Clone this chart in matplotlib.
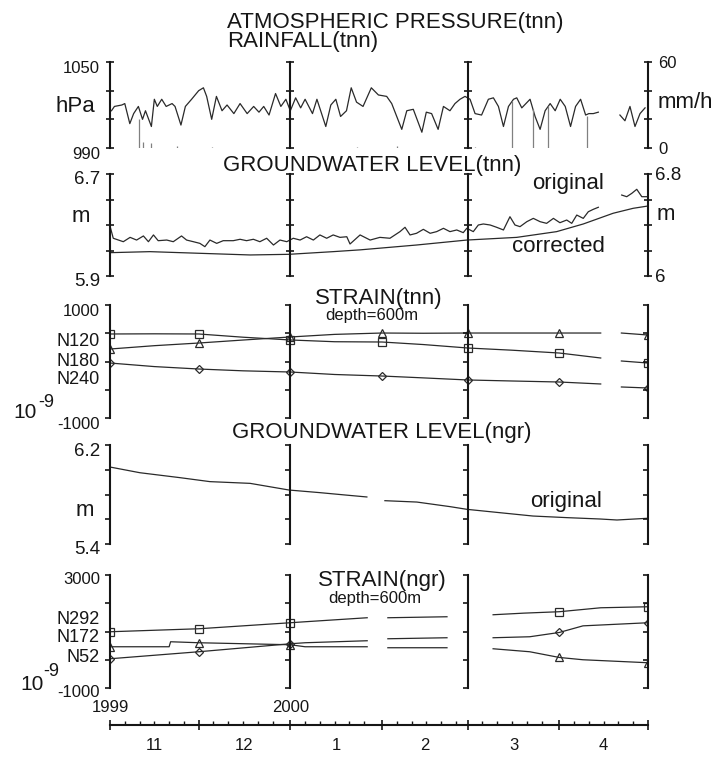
import numpy as np
import matplotlib
matplotlib.use("Agg")
import matplotlib.pyplot as plt
from matplotlib.transforms import ScaledTranslation, offset_copy

plt.rcParams["font.family"] = ["Liberation Sans", "DejaVu Sans"]
plt.rcParams["axes.unicode_minus"] = False

nan = np.nan

# ---------------------------------------------------------------- time frame
start = np.datetime64("1999-11-01")
month_starts = np.array(["1999-11-01", "1999-12-01", "2000-01-01", "2000-02-01",
                         "2000-03-01", "2000-04-01", "2000-05-01"], dtype="datetime64[D]")
month_names = ["11", "12", "1", "2", "3", "4"]
year_names = ["1999", "2000"]
year_starts = np.array(["1999-11-01", "2000-01-01"], dtype="datetime64[D]")
ruler_dates = np.array(["2000-01-01", "2000-03-01"], dtype="datetime64[D]")

# ---------------------------------------------------------------- tnn: pressure / rainfall
pressure_day = [
    0.5, 1.5, 4.0, 5.0, 6.7, 8.0, 9.6, 11.0, 12.0, 14.0,
    15.0, 16.0, 17.5, 19.0, 21.0, 22.0, 24.0, 25.5, 27.6, 30.0,
    31.6, 32.7, 34.4, 36.0, 37.9, 39.6, 41.9, 44.0, 46.4, 48.6,
    50.4, 52.0, 53.8, 56.0, 57.8, 59.5, 61.0, 62.8, 64.5, 66.0,
    68.5, 70.0, 73.0, 74.7, 76.4, 78.0, 80.0, 81.6, 83.4, 85.6,
    88.4, 90.8, 93.6, 95.3, 97.0, 98.7, 100.4, 102.6, 105.5, 107.0,
    108.8, 111.0, 112.8, 115.0, 116.7, 118.4, 120.1, 121.8, 123.5, 125.7,
    128.0, 129.7, 131.4, 133.1, 134.8, 136.5, 137.6, 139.3, 142.1, 143.8,
    145.5, 147.2, 148.9, 150.6, 152.3, 154.0, 155.8, 157.5, 159.2, 160.9,
    162.0, 163.5, 165.2, nan, 172.5, 174.2, 175.9, 177.6, 179.3, 181.0]
pressure_hpa = [
    1016, 1019, 1020, 1021, 1007, 1014, 1019, 1010, 1016, 1005,
    1024, 1019, 1024, 1019, 1021, 1019, 1006, 1019, 1024, 1030,
    1032, 1026, 1010, 1026, 1016, 1020, 1014, 1021, 1014, 1019,
    1015, 1019, 1013, 1028, 1019, 1024, 1016, 1025, 1018, 1024,
    1014, 1024, 1005, 1020, 1024, 1012, 1016, 1032, 1022, 1019,
    1032, 1027, 1026, 1021, 1012, 1003, 1016, 1017, 1001, 1015,
    1014, 1003, 1019, 1016, 1021, 1024, 1026, 1024, 1014, 1013,
    1024, 1025, 1019, 1005, 1019, 1024, 1025, 1018, 1024, 1012,
    1003, 1016, 1021, 1016, 1024, 1019, 1005, 1019, 1024, 1013,
    1014, 1014, 1015, nan, 1013, 1009, 1019, 1005, 1014, 1018]

rain_day = [9.9, 11.0, 14.0, 22.5, 34.4, 83.4, 97.0, 123.5, 136.0, 143.2, 148.3, 161.2]
rain_mm = [20, 4.5, 3.5, 1.5, 1.0, 1.0, 1.5, 1.0, 33, 27, 29, 22]

# ---------------------------------------------------------------- tnn: groundwater
gw_tnn_day = [
    0.0, 1.1, 4.5, 6.8, 9.0, 11.3, 13.0, 14.7, 16.3, 19.2,
    21.4, 24.2, 25.9, 28.2, 30.4, 32.1, 33.8, 36.1, 38.3, 41.7,
    44.0, 46.2, 48.5, 50.7, 53.0, 55.3, 57.5, 59.8, 62.0, 64.3,
    66.5, 68.8, 71.0, 73.3, 75.5, 77.8, 80.1, 81.2, 84.6, 88.0,
    91.3, 94.7, 98.1, 99.8, 101.5, 103.7, 106.0, 108.3, 110.5, 112.8,
    115.0, 117.3, 119.5, 120.7, 122.9, 124.6, 126.3, 128.6, 130.8, 133.1,
    135.3, 137.0, 138.7, 141.0, 143.2, 145.5, 147.7, 150.0, 152.2, 154.5,
    156.2, 157.9, 160.1, 161.8, 163.5, 165.2, nan, 173.1, 174.8, 176.5,
    178.2, 179.9, 181.6]
gw_tnn_original = [
    6.292, 6.196, 6.169, 6.203, 6.182, 6.214, 6.169, 6.222, 6.177, 6.182,
    6.169, 6.214, 6.182, 6.169, 6.156, 6.130, 6.182, 6.156, 6.177, 6.177,
    6.188, 6.177, 6.188, 6.169, 6.196, 6.143, 6.182, 6.169, 6.196, 6.182,
    6.208, 6.182, 6.222, 6.196, 6.222, 6.203, 6.208, 6.151, 6.222, 6.182,
    6.203, 6.196, 6.248, 6.282, 6.222, 6.235, 6.266, 6.235, 6.248, 6.274,
    6.248, 6.261, 6.240, 6.274, 6.248, 6.300, 6.308, 6.300, 6.282, 6.261,
    6.365, 6.300, 6.287, 6.326, 6.352, 6.326, 6.313, 6.352, 6.318, 6.339,
    6.313, 6.378, 6.352, 6.404, 6.423, 6.439, nan, 6.535, 6.522, 6.548,
    6.580, 6.522, 6.522]

gw_tnn_corr_day = [0.0, 13.5, 30.4, 47.4, 60.5, 75.5, 84.6, 103.7, 120.7,
                   137.6, 151.1, 160.1, 170.2, 177.0, 182.0]
gw_tnn_corrected = [6.083, 6.091, 6.078, 6.065, 6.070, 6.091, 6.105, 6.143, 6.182,
                    6.203, 6.248, 6.308, 6.392, 6.431, 6.449]

# ---------------------------------------------------------------- tnn: strain (1e-9)
strain_tnn_day = [0, 15, 30, 45, 61, 76, 92, 106, 121, 136, 152, 166, nan, 173, 182]
strain_tnn_N120 = [487, 490, 487, 430, 381, 350, 345, 300, 239, 200, 150, 62, nan, 9, -27]
strain_tnn_N180 = [221, 280, 327, 380, 434, 480, 504, 500, 504, 504, 504, 504, nan, 504, 469]
strain_tnn_N240 = [-27, -90, -133, -165, -186, -230, -257, -290, -327, -345, -363, -398, nan, -451, -469]

# ---------------------------------------------------------------- ngr: groundwater
gw_ngr_day = [0.0, 10.1, 23.7, 33.8, 47.4, 60.6, 71.0, 80.0, 86.9, nan,
              93.0, 103.8, 115.0, 120.8, 131.9, 143.1, 154.6, 165.8, 171.5, 182.0]
gw_ngr_original = [6.022, 5.976, 5.936, 5.904, 5.890, 5.836, 5.815, 5.795, 5.780, nan,
                   5.750, 5.739, 5.702, 5.680, 5.653, 5.626, 5.613, 5.602, 5.594, 5.608]

# ---------------------------------------------------------------- ngr: strain (1e-9)
strain_ngr_N292_day = [0, 30, 61, 66, 87, nan, 94, 114, nan, 129.6, 140, 152, 166, 182]
strain_ngr_N292 = [991, 1097, 1310, 1345, 1487, nan, 1487, 1522, nan, 1593, 1650, 1700, 1840, 1876]
strain_ngr_N172_day = [0, 20, 20.5, 30, 61, 66, 87, nan, 94, 114, nan, 129.6, 142, 152, 160, 182]
strain_ngr_N172 = [460, 460, 637, 602, 531, 460, 460, nan, 425, 425, nan, 389, 283, 81, 0, -106]
strain_ngr_N52_day = [0, 30, 61, 66, 87, nan, 94, 114, nan, 129.6, 142, 152, 160, 182]
strain_ngr_N52 = [35, 283, 566, 602, 673, nan, 743, 779, nan, 779, 814, 966, 1200, 1310]

# ---------------------------------------------------------------- styling / layout
INK = "#161616"
TRACE = "#2a2a2a"
RAIN = "#808080"
SPINE_W = 1.5
TICK_W = 1.2
W, H = 713, 758
X0, X1 = 110, 648

month_days = (month_starts - start).astype(float)
span = month_days[-1]
ruler_days = (ruler_dates - start).astype(float)
year_days = (year_starts - start).astype(float)

fig = plt.figure(figsize=(W / 100, H / 100), dpi=100)
fig.patch.set_facecolor("white")


def rect(top, bottom):
    return [X0 / W, 1 - bottom / H, (X1 - X0) / W, (bottom - top) / H]


def put(px, py, s, size, ha="left", va="center", **kw):
    return fig.text(px / W, 1 - py / H, s, fontsize=size, ha=ha, va=va, color=INK, **kw)


def base_panel(top, bottom, ylim, ticks, labels, direction, length, lab_size, pad):
    ax = fig.add_axes(rect(top, bottom))
    ax.set_xlim(0, span)
    ax.set_ylim(*ylim)
    ax.patch.set_visible(False)
    for s in ("top", "right", "bottom"):
        ax.spines[s].set_visible(False)
    ax.spines["left"].set_linewidth(SPINE_W)
    ax.spines["left"].set_color(INK)
    ax.tick_params(axis="x", bottom=False, labelbottom=False)
    ax.set_yticks(ticks, labels)
    ax.tick_params(axis="y", direction=direction, length=length, width=TICK_W,
                   color=INK, labelcolor=INK, labelsize=lab_size, pad=pad)
    return ax


def ruler(ax, day, ticks, direction, length):
    r = ax.twinx()
    r.set_ylim(ax.get_ylim())
    r.yaxis.set_ticks_position("left")
    r.spines["left"].set_position(("data", day))
    for s in ("top", "right", "bottom"):
        r.spines[s].set_visible(False)
    r.spines["left"].set_linewidth(SPINE_W)
    r.spines["left"].set_color(INK)
    r.set_yticks(ticks)
    r.tick_params(axis="y", direction=direction, length=length, width=TICK_W,
                  color=INK, labelleft=False, labelright=False)
    return r


def right_scale(ax, ylim, ticks, labels, lab_size, pad):
    r = ax.twinx()
    r.set_ylim(*ylim)
    for s in ("top", "left", "bottom"):
        r.spines[s].set_visible(False)
    r.spines["right"].set_linewidth(SPINE_W)
    r.spines["right"].set_color(INK)
    r.set_yticks(ticks, labels)
    r.tick_params(axis="y", direction="inout", length=5.8, width=TICK_W,
                  color=INK, labelcolor=INK, labelsize=lab_size, pad=pad)
    return r


def nudge_down(ax, px):
    off = ScaledTranslation(0, -px / 100, fig.dpi_scale_trans)
    for t in ax.yaxis.get_major_ticks():
        t.label1.set_transform(t.label1.get_transform() + off)


def month_marks(days):
    d = np.asarray(days, dtype=float)
    return list(np.isin(d, month_days))


line_kw = dict(color=TRACE, lw=0.9)
mk_kw = dict(mfc="none", mec=TRACE, mew=0.9)

# ---------------------------------------------------------------- panel 1
ax1 = base_panel(62, 148, (990, 1050), [990, 1010, 1030, 1050], ["990", "", "", "1050"],
                 "inout", 5.8, 12, 4.3)
ax1.plot(pressure_day, pressure_hpa, **line_kw)
for d in ruler_days:
    ruler(ax1, d, [990, 1010, 1030, 1050], "inout", 5.8)
rain_ax = right_scale(ax1, (0, 60), [0, 20, 40, 60], ["0", "", "", "60"], 12, 4.3)
rain_ax.vlines(rain_day, 0, rain_mm, color=RAIN, lw=0.9)
nudge_down(ax1, 5)

# ---------------------------------------------------------------- panel 2
gw_ticks = [5.9, 6.1, 6.3, 6.5, 6.7]
ax2 = base_panel(174, 276, (5.9, 6.7), gw_ticks, ["5.9", "", "", "", "6.7"],
                 "inout", 5.8, 13.5, 4.3)
ax2.plot(gw_tnn_day, gw_tnn_original, **line_kw)
ax2.plot(gw_tnn_corr_day, gw_tnn_corrected, **line_kw)
for d in ruler_days:
    ruler(ax2, d, gw_ticks, "inout", 5.8)
right_scale(ax2, (6.0, 6.8), [6.0, 6.2, 6.4, 6.6, 6.8], ["6", "", "", "", "6.8"], 13.5, 2.5)
nudge_down(ax2, 4)

# ---------------------------------------------------------------- panel 3
st_ticks = [-1000, -500, 0, 500, 1000]
ax3 = base_panel(305, 418, (-1000, 1000), st_ticks, ["-1000", "", "", "", "1000"],
                 "out", 3.6, 12, 3.6)
marks = month_marks(strain_tnn_day)
ax3.plot(strain_tnn_day, strain_tnn_N120, marker="s", ms=6, markevery=marks, **line_kw, **mk_kw)
ax3.plot(strain_tnn_day, strain_tnn_N180, marker="^", ms=5.5, markevery=marks, **line_kw, **mk_kw)
ax3.plot(strain_tnn_day, strain_tnn_N240, marker="D", ms=3.8, markevery=marks, **line_kw, **mk_kw)
for d in list(ruler_days) + [span]:
    ruler(ax3, d, st_ticks, "out", 3.6)
nudge_down(ax3, 5)

# ---------------------------------------------------------------- panel 4
gw2_ticks = [5.4, 5.6, 5.8, 6.0, 6.2]
ax4 = base_panel(445, 544, (5.4, 6.2), gw2_ticks, ["5.4", "", "", "", "6.2"],
                 "out", 3.6, 13.5, 3.6)
ax4.plot(gw_ngr_day, gw_ngr_original, **line_kw)
for d in list(ruler_days) + [span]:
    ruler(ax4, d, gw2_ticks, "out", 3.6)
nudge_down(ax4, 4)

# ---------------------------------------------------------------- panel 5
st2_ticks = [-1000, 0, 1000, 2000, 3000]
ax5 = base_panel(575, 688, (-1000, 3000), st2_ticks, ["-1000", "", "", "", "3000"],
                 "out", 3.6, 12, 3.6)
ax5.plot(strain_ngr_N292_day, strain_ngr_N292, marker="s", ms=6,
         markevery=month_marks(strain_ngr_N292_day), **line_kw, **mk_kw)
ax5.plot(strain_ngr_N172_day, strain_ngr_N172, marker="^", ms=5.5,
         markevery=month_marks(strain_ngr_N172_day), **line_kw, **mk_kw)
ax5.plot(strain_ngr_N52_day, strain_ngr_N52, marker="D", ms=3.8,
         markevery=month_marks(strain_ngr_N52_day), **line_kw, **mk_kw)
for d in list(ruler_days) + [span]:
    ruler(ax5, d, st2_ticks, "out", 3.6)
nudge_down(ax5, 3)

# ---------------------------------------------------------------- time axis
axt = fig.add_axes([X0 / W, 1 - 725 / H, (X1 - X0) / W, 10 / H])
axt.set_xlim(0, span)
axt.set_ylim(0, 1)
axt.patch.set_visible(False)
for s in ("top", "left", "right"):
    axt.spines[s].set_visible(False)
axt.spines["bottom"].set_linewidth(SPINE_W)
axt.spines["bottom"].set_color(INK)
axt.set_yticks([])
axt.set_xticks(month_days, [""] * len(month_days))
minor_days = [m + k for m in month_days[:-1] for k in (5, 10, 15, 20, 25)]
axt.set_xticks(minor_days, minor=True)
axt.tick_params(axis="x", which="major", direction="inout", length=7, width=TICK_W, color=INK)
axt.tick_params(axis="x", which="minor", direction="in", length=3, width=1.0, color=INK)

below = offset_copy(axt.get_xaxis_transform(), fig=fig, x=0, y=-20, units="dots")
above = offset_copy(axt.get_xaxis_transform(), fig=fig, x=0, y=17, units="dots")
for a, b, name in zip(month_days[:-1], month_days[1:], month_names):
    axt.text((a + b) / 2, 0, name, transform=below, ha="center", va="center",
             fontsize=12, color=INK)
for d, name in zip(year_days, year_names):
    axt.text(d, 0, name, transform=above, ha="center", va="center", fontsize=12, color=INK)

# ---------------------------------------------------------------- titles and labels
put(227, 28, "ATMOSPHERIC PRESSURE(tnn)", 16, va="baseline")
put(227, 47, "RAINFALL(tnn)", 16, va="baseline")
put(75, 107, "hPa", 16, ha="center")
put(658, 103, "mm/h", 16)

put(223, 171, "GROUNDWATER LEVEL(tnn)", 16, va="baseline")
put(81, 217, "m", 16, ha="center")
put(657, 215, "m", 16)
put(532, 183, "original", 16)
put(512, 247, "corrected", 16)

put(315, 304, "STRAIN(tnn)", 16, va="baseline")
put(325, 320, "depth=600m", 12, va="baseline")
put(100, 342, "N120", 13, ha="right")
put(100, 361, "N180", 13, ha="right")
put(100, 380, "N240", 13, ha="right")
put(13, 413, "10", 15)
put(38, 402, "-9", 13)

put(232, 438, "GROUNDWATER LEVEL(ngr)", 16, va="baseline")
put(85, 510, "m", 16, ha="center")
put(530, 502, "original", 16)

put(318, 586, "STRAIN(ngr)", 16, va="baseline")
put(328, 603, "depth=600m", 12, va="baseline")
put(100, 620, "N292", 13, ha="right")
put(100, 638, "N172", 13, ha="right")
put(100, 657, "N52", 13, ha="right")
put(20, 685, "10", 15)
put(43, 672, "-9", 13)

fig.savefig("out.png", dpi=100, facecolor="white")
